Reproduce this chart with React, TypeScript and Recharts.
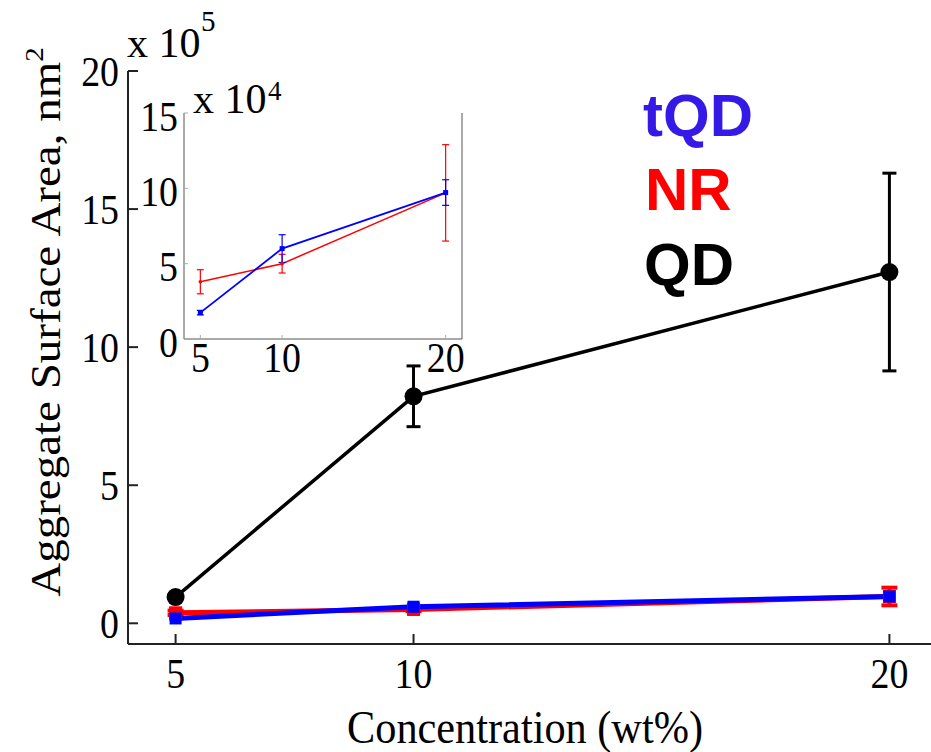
import React from 'react';
import { LineChart, Line, XAxis, YAxis, ErrorBar } from 'recharts';

// Concentration (wt%)
const concentration = [5, 10, 20];
// QD aggregate surface area (x10^5 nm^2), symmetric error
const qdMean = [0.95, 8.22, 12.72];
const qdErr = [0.12, 1.1, 3.58];
// tQD aggregate surface area (x10^4 nm^2)
const tqdMean = [1.75, 6.0, 9.72];
const tqdErr = [0.15, 0.92, 0.85];
// NR aggregate surface area (x10^4 nm^2)
const nrMean = [3.8, 5.0, 9.7];
const nrErr = [0.8, 0.62, 3.2];

const xTicks = [5, 10, 20];
const mainYTicks = [0, 5, 10, 15, 20];
const insetYTicks = [0, 5, 10, 15];

// main chart in units of 1e5, inset in units of 1e4
const mainData = concentration.map((x, i) => ({
  x,
  qd: qdMean[i],
  qdE: qdErr[i],
  tqd: tqdMean[i] / 10,
  tqdE: tqdErr[i] / 10,
  nr: nrMean[i] / 10,
  nrE: nrErr[i] / 10,
}));
const insetData = concentration.map((x, i) => ({
  x,
  tqd: tqdMean[i],
  tqdE: tqdErr[i],
  nr: nrMean[i],
  nrE: nrErr[i],
}));

const SERIF = '"Liberation Serif", "Times New Roman", serif';
const SANS = '"Liberation Sans", Arial, sans-serif';
const BLUE = '#0000ff';
const RED = '#ff0000';

type Side = 'bottom' | 'top' | 'left' | 'right';

// tick renderer: draws an inward tick mark and (optionally) a serif label
const makeTick =
  (side: Side, len: number, stroke: string, sw: number, label?: { dx: number; dy: number; anchor: string }) =>
  (p: any) => {
    const { x, y } = p;
    let x2 = x;
    let y2 = y;
    if (side === 'bottom') y2 = y - len;
    if (side === 'top') y2 = y + len;
    if (side === 'left') x2 = x + len;
    if (side === 'right') x2 = x - len;
    return (
      <g>
        <line x1={x} y1={y} x2={x2} y2={y2} stroke={stroke} strokeWidth={sw} />
        {label ? (
          <text
            transform={`translate(${x + label.dx},${y + label.dy}) scale(0.88,1)`}
            textAnchor={label.anchor}
            fontFamily={SERIF}
            fontSize={43}
            fill="#000"
          >
            {p.payload.value}
          </text>
        ) : null}
      </g>
    );
  };

const square = (size: number, color: string) => (p: any) => (
  <rect
    key={`sq-${p.index}`}
    x={p.cx - size / 2}
    y={p.cy - size / 2}
    width={size}
    height={size}
    fill={color}
  />
);
const circle = (r: number, color: string) => (p: any) => (
  <circle key={`c-${p.index}`} cx={p.cx} cy={p.cy} r={r} fill={color} />
);

const MAIN_STROKE = '#222';
const mainAxis = { stroke: MAIN_STROKE, strokeWidth: 2 };
const insetAxis = { stroke: '#555', strokeWidth: 1 };
const INSET_TICK = '#aaa';

export default function App() {
  return (
    <div
      style={{
        position: 'absolute',
        left: 0,
        top: 0,
        width: 931,
        height: 752,
        overflow: 'hidden',
        background: '#fff',
      }}
    >
      <LineChart width={938} height={752} data={mainData} margin={{ top: 71, right: 0, bottom: 0, left: 0 }}>
        <XAxis
          xAxisId="b"
          dataKey="x"
          type="number"
          domain={[4, 21]}
          ticks={xTicks}
          interval={0}
          height={108}
          tickSize={0}
          tickMargin={0}
          axisLine={mainAxis}
          tickLine={false}
          tick={makeTick('bottom', 10, MAIN_STROKE, 2, { dx: 0, dy: 44, anchor: 'middle' })}
        />
        <XAxis
          xAxisId="t"
          orientation="top"
          dataKey="x"
          type="number"
          domain={[4, 21]}
          ticks={xTicks}
          interval={0}
          height={0}
          tickSize={0}
          tickMargin={0}
          axisLine={mainAxis}
          tickLine={false}
          tick={makeTick('top', 10, MAIN_STROKE, 2)}
        />
        <YAxis
          yAxisId="l"
          type="number"
          domain={[-0.75, 20]}
          ticks={mainYTicks}
          interval={0}
          width={128}
          tickSize={0}
          tickMargin={0}
          axisLine={mainAxis}
          tickLine={false}
          tick={makeTick('left', 10, MAIN_STROKE, 2, { dx: -9, dy: 14.5, anchor: 'end' })}
        />
        <YAxis
          yAxisId="r"
          orientation="right"
          type="number"
          domain={[-0.75, 20]}
          ticks={mainYTicks}
          interval={0}
          width={1}
          tickSize={0}
          tickMargin={0}
          axisLine={mainAxis}
          tickLine={false}
          tick={makeTick('right', 10, MAIN_STROKE, 2)}
        />
        <Line
          xAxisId="b"
          yAxisId="l"
          dataKey="qd"
          stroke="#000"
          strokeWidth={3.5}
          dot={circle(9, '#000')}
          activeDot={false}
          isAnimationActive={false}
        >
          <ErrorBar dataKey="qdE" direction="y" width={7} stroke="#000" strokeWidth={3} />
        </Line>
        <Line
          xAxisId="b"
          yAxisId="l"
          dataKey="nr"
          stroke={RED}
          strokeWidth={5}
          dot={square(13, RED)}
          activeDot={false}
          isAnimationActive={false}
        >
          <ErrorBar dataKey="nrE" direction="y" width={8} stroke={RED} strokeWidth={4} />
        </Line>
        <Line
          xAxisId="b"
          yAxisId="l"
          dataKey="tqd"
          stroke={BLUE}
          strokeWidth={5}
          dot={square(12, BLUE)}
          activeDot={false}
          isAnimationActive={false}
        >
          <ErrorBar dataKey="tqdE" direction="y" width={6} stroke={BLUE} strokeWidth={4} />
        </Line>
      </LineChart>

      <div style={{ position: 'absolute', left: 140, top: 78 }}>
        <LineChart width={340} height={310} data={insetData} margin={{ top: 35, right: 0, bottom: 0, left: 0 }}>
          <XAxis
            xAxisId="b"
            dataKey="x"
            type="number"
            domain={[4, 21]}
            ticks={xTicks}
            interval={0}
            height={49}
            tickSize={0}
            tickMargin={0}
            axisLine={insetAxis}
            tickLine={false}
            tick={makeTick('bottom', 4, INSET_TICK, 1, { dx: 0, dy: 33, anchor: 'middle' })}
          />
          <XAxis
            xAxisId="t"
            orientation="top"
            dataKey="x"
            type="number"
            domain={[4, 21]}
            ticks={xTicks}
            interval={0}
            height={0}
            tickSize={0}
            tickMargin={0}
            axisLine={insetAxis}
            tickLine={false}
            tick={makeTick('top', 4, INSET_TICK, 1)}
          />
          <YAxis
            yAxisId="l"
            type="number"
            domain={[0, 15]}
            ticks={insetYTicks}
            interval={0}
            width={44}
            tickSize={0}
            tickMargin={0}
            axisLine={insetAxis}
            tickLine={false}
            tick={makeTick('left', 4, INSET_TICK, 1, { dx: -6, dy: 17.5, anchor: 'end' })}
          />
          <YAxis
            yAxisId="r"
            orientation="right"
            type="number"
            domain={[0, 15]}
            ticks={insetYTicks}
            interval={0}
            width={18}
            tickSize={0}
            tickMargin={0}
            axisLine={insetAxis}
            tickLine={false}
            tick={makeTick('right', 4, INSET_TICK, 1)}
          />
          <Line
            xAxisId="b"
            yAxisId="l"
            dataKey="nr"
            stroke={RED}
            strokeWidth={1.5}
            dot={circle(1.8, RED)}
            activeDot={false}
            isAnimationActive={false}
          >
            <ErrorBar dataKey="nrE" direction="y" width={3.5} stroke={RED} strokeWidth={1.2} />
          </Line>
          <Line
            xAxisId="b"
            yAxisId="l"
            dataKey="tqd"
            stroke={BLUE}
            strokeWidth={1.8}
            dot={square(5, BLUE)}
            activeDot={false}
            isAnimationActive={false}
          >
            <ErrorBar dataKey="tqdE" direction="y" width={3.5} stroke={BLUE} strokeWidth={1.2} />
          </Line>
        </LineChart>
      </div>

      <svg
        width={931}
        height={752}
        style={{ position: 'absolute', left: 0, top: 0, pointerEvents: 'none' }}
      >
        {/* main multiplier */}
        <text x={127} y={57} fontFamily={SERIF} fontSize={42} fill="#000">
          x 10
        </text>
        <text x={201} y={31} fontFamily={SERIF} fontSize={29} fill="#000">
          5
        </text>
        {/* inset multiplier */}
        <text x={193} y={113} fontFamily={SERIF} fontSize={42} fill="#000">
          x 10
        </text>
        <text x={268} y={100} fontFamily={SERIF} fontSize={27} fill="#000">
          4
        </text>
        {/* axis titles */}
        <text
          transform="translate(525,743) scale(0.92,1)"
          textAnchor="middle"
          fontFamily={SERIF}
          fontSize={46}
          fill="#000"
        >
          Concentration (wt%)
        </text>
        <text
          transform="translate(60,322) rotate(-90) scale(1,0.9)"
          textAnchor="middle"
          fontFamily={SERIF}
          fontSize={47}
          fill="#000"
        >
          Aggregate Surface Area, nm
          <tspan dy={-19} fontSize={29}>2</tspan>
        </text>
        {/* legend */}
        <text x={643} y={136} fontFamily={SANS} fontWeight="bold" fontSize={60} fill="#3519e6">
          tQD
        </text>
        <text x={645} y={210} fontFamily={SANS} fontWeight="bold" fontSize={60} fill={RED}>
          NR
        </text>
        <text x={644} y={285} fontFamily={SANS} fontWeight="bold" fontSize={60} fill="#000">
          QD
        </text>
      </svg>
    </div>
  );
}
